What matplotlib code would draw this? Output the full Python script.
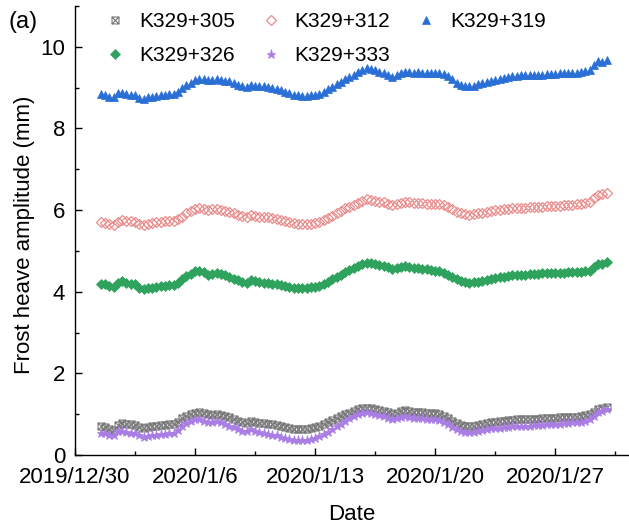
import matplotlib
matplotlib.use("Agg")
import matplotlib.pyplot as plt
from matplotlib.path import Path
from matplotlib.ticker import MultipleLocator
import pandas as pd

plt.rcParams['font.family'] = ['Liberation Sans', 'DejaVu Sans']

# ---------------- data ----------------
times = pd.date_range("2019-12-31 12:00", periods=119, freq="6h")

series_names = ["K329+305", "K329+312", "K329+319", "K329+326", "K329+333"]

k305 = [0.70, 0.68,
        0.64, 0.62, 0.74, 0.78,  0.76, 0.75, 0.74, 0.68,  0.66, 0.68, 0.70, 0.72,
        0.73, 0.74, 0.76, 0.76,  0.82, 0.90, 0.96, 1.00,  1.03, 1.05, 1.03, 1.00,
        0.99, 1.00, 0.98, 0.95,  0.92, 0.88, 0.84, 0.80,  0.78, 0.84, 0.82, 0.79,
        0.78, 0.77, 0.75, 0.73,  0.71, 0.68, 0.65, 0.64,  0.63, 0.63, 0.64, 0.66,
        0.68, 0.71, 0.75, 0.80,  0.85, 0.90, 0.95, 1.00,  1.04, 1.08, 1.12, 1.14,
        1.16, 1.15, 1.12, 1.10,  1.08, 1.05, 1.01, 1.04,  1.09, 1.10, 1.08, 1.06,
        1.06, 1.05, 1.04, 1.03,  1.02, 1.00, 0.96, 0.90,  0.84, 0.78, 0.74, 0.72,
        0.71, 0.72, 0.74, 0.76,  0.78, 0.80, 0.82, 0.83,  0.84, 0.85, 0.86, 0.87,
        0.87, 0.88, 0.88, 0.89,  0.89, 0.90, 0.90, 0.91,  0.91, 0.92, 0.92, 0.93,
        0.94, 0.94, 0.95, 0.97,  1.00, 1.06, 1.12, 1.14,
        1.17]

k312 = [5.70, 5.68,
        5.66, 5.64, 5.72, 5.76,  5.74, 5.73, 5.72, 5.66,  5.64, 5.66, 5.68, 5.70,
        5.72, 5.73, 5.74, 5.74,  5.78, 5.84, 5.92, 5.98,  6.02, 6.04, 6.03, 6.00,
        6.02, 6.02, 6.00, 5.98,  5.96, 5.92, 5.88, 5.85,  5.84, 5.88, 5.86, 5.84,
        5.83, 5.82, 5.80, 5.78,  5.76, 5.73, 5.70, 5.68,  5.67, 5.66, 5.66, 5.67,
        5.68, 5.71, 5.75, 5.80,  5.86, 5.92, 5.98, 6.04,  6.08, 6.13, 6.18, 6.22,
        6.26, 6.25, 6.22, 6.20,  6.19, 6.16, 6.12, 6.14,  6.18, 6.20, 6.19, 6.18,
        6.18, 6.17, 6.16, 6.15,  6.15, 6.14, 6.12, 6.08,  6.02, 5.96, 5.92, 5.90,
        5.89, 5.90, 5.92, 5.94,  5.96, 5.97, 5.99, 6.01,  6.02, 6.03, 6.04, 6.05,
        6.06, 6.06, 6.07, 6.07,  6.08, 6.08, 6.09, 6.10,  6.10, 6.11, 6.12, 6.12,
        6.13, 6.14, 6.15, 6.17,  6.20, 6.30, 6.38, 6.40,
        6.43]

k319 = [8.84, 8.82,
        8.78, 8.76, 8.86, 8.88,  8.84, 8.83, 8.82, 8.74,  8.72, 8.76, 8.78, 8.80,
        8.82, 8.83, 8.85, 8.84,  8.90, 8.98, 9.06, 9.12,  9.18, 9.21, 9.20, 9.18,
        9.19, 9.20, 9.18, 9.17,  9.16, 9.12, 9.07, 9.04,  9.02, 9.06, 9.05, 9.04,
        9.03, 9.02, 9.00, 8.97,  8.94, 8.90, 8.86, 8.83,  8.81, 8.80, 8.80, 8.81,
        8.82, 8.85, 8.90, 8.96,  9.02, 9.08, 9.14, 9.20,  9.26, 9.32, 9.38, 9.43,
        9.48, 9.46, 9.42, 9.38,  9.36, 9.32, 9.27, 9.30,  9.35, 9.38, 9.38, 9.37,
        9.38, 9.36, 9.36, 9.35,  9.36, 9.35, 9.33, 9.28,  9.20, 9.12, 9.07, 9.04,
        9.03, 9.05, 9.08, 9.12,  9.14, 9.16, 9.19, 9.22,  9.24, 9.26, 9.28, 9.29,
        9.30, 9.30, 9.31, 9.31,  9.32, 9.32, 9.33, 9.33,  9.34, 9.35, 9.35, 9.36,
        9.37, 9.37, 9.38, 9.40,  9.42, 9.56, 9.66, 9.64,
        9.67]

k326 = [4.20, 4.18,
        4.15, 4.12, 4.22, 4.26,  4.22, 4.20, 4.18, 4.10,  4.06, 4.08, 4.10, 4.12,
        4.13, 4.14, 4.16, 4.16,  4.22, 4.30, 4.38, 4.44,  4.50, 4.52, 4.48, 4.42,
        4.44, 4.46, 4.44, 4.40,  4.36, 4.32, 4.28, 4.24,  4.22, 4.28, 4.26, 4.23,
        4.22, 4.21, 4.20, 4.19,  4.17, 4.14, 4.12, 4.10,  4.09, 4.09, 4.10, 4.11,
        4.12, 4.15, 4.19, 4.24,  4.30, 4.36, 4.42, 4.48,  4.53, 4.58, 4.63, 4.67,
        4.71, 4.70, 4.68, 4.65,  4.63, 4.60, 4.55, 4.57,  4.61, 4.62, 4.60, 4.58,
        4.58, 4.56, 4.55, 4.53,  4.52, 4.50, 4.47, 4.42,  4.36, 4.30, 4.26, 4.23,
        4.22, 4.23, 4.25, 4.27,  4.29, 4.31, 4.33, 4.35,  4.37, 4.38, 4.40, 4.41,
        4.42, 4.42, 4.43, 4.44,  4.44, 4.45, 4.45, 4.46,  4.46, 4.47, 4.47, 4.48,
        4.48, 4.49, 4.49, 4.50,  4.52, 4.60, 4.67, 4.68,
        4.72]

k333 = [0.55, 0.53,
        0.50, 0.48, 0.58, 0.60,  0.57, 0.55, 0.54, 0.48,  0.45, 0.47, 0.49, 0.50,
        0.51, 0.52, 0.54, 0.55,  0.62, 0.70, 0.78, 0.84,  0.88, 0.88, 0.84, 0.80,
        0.82, 0.83, 0.80, 0.76,  0.72, 0.68, 0.64, 0.60,  0.58, 0.63, 0.60, 0.56,
        0.54, 0.52, 0.50, 0.48,  0.45, 0.42, 0.39, 0.37,  0.36, 0.36, 0.37, 0.39,
        0.42, 0.46, 0.51, 0.57,  0.63, 0.70, 0.77, 0.84,  0.90, 0.96, 1.00, 1.03,
        1.05, 1.03, 1.00, 0.97,  0.95, 0.91, 0.87, 0.90,  0.94, 0.95, 0.93, 0.91,
        0.91, 0.90, 0.89, 0.88,  0.87, 0.85, 0.81, 0.75,  0.69, 0.63, 0.59, 0.57,
        0.56, 0.57, 0.59, 0.61,  0.63, 0.65, 0.66, 0.67,  0.68, 0.69, 0.70, 0.71,
        0.71, 0.72, 0.72, 0.73,  0.74, 0.74, 0.75, 0.76,  0.77, 0.77, 0.78, 0.79,
        0.80, 0.80, 0.82, 0.84,  0.88, 0.96, 1.06, 1.09,
        1.12]

xtick_dates = ["2019-12-30", "2020-01-06", "2020-01-13", "2020-01-20", "2020-01-27"]
xtick_labels = ["2019/12/30", "2020/1/6", "2020/1/13", "2020/1/20", "2020/1/27"]
yticks = [0, 2, 4, 6, 8, 10]

# ---------------- figure ----------------
fig = plt.figure(figsize=(6.29, 5.27), dpi=100)
ax = fig.add_axes([75 / 629, 72 / 527, 554 / 629, 449 / 527])

box_x = Path([(-1, -1), (1, -1), (1, 1), (-1, 1), (-1, -1),
              (-1, -1), (1, 1), (-1, 1), (1, -1)],
             [Path.MOVETO, Path.LINETO, Path.LINETO, Path.LINETO, Path.CLOSEPOLY,
              Path.MOVETO, Path.LINETO, Path.MOVETO, Path.LINETO])

h305, = ax.plot(times, k305, ls='none', marker=box_x, ms=5.0, mfc='none',
                mec='#777777', mew=0.8, label=series_names[0])
h312, = ax.plot(times, k312, ls='none', marker='D', ms=5.4, mfc='none',
                mec='#e88c8c', mew=0.9, label=series_names[1])
h319, = ax.plot(times, k319, ls='none', marker='^', ms=6.4, mfc='#2a6fd6',
                mec='#2a6fd6', mew=0.5, label=series_names[2])
h326, = ax.plot(times, k326, ls='none', marker='D', ms=5.2, mfc='#2fa35e',
                mec='#2fa35e', mew=0.5, label=series_names[3])
h333, = ax.plot(times, k333, ls='none', marker='*', ms=6.8, mfc='#a97de4',
                mec='#a97de4', mew=0.5, label=series_names[4])

x0 = pd.Timestamp("2019-12-30")
ax.set_xlim(x0, x0 + pd.Timedelta(days=32.3))
ax.set_ylim(0, 11)

ax.set_xticks(pd.to_datetime(xtick_dates))
ax.set_xticklabels(xtick_labels)
ax.set_xticks(pd.to_datetime(xtick_dates) + pd.Timedelta(hours=84), minor=True)
ax.set_yticks(yticks)
ax.yaxis.set_minor_locator(MultipleLocator(1))

for side in ['top', 'right']:
    ax.spines[side].set_visible(False)
for side in ['left', 'bottom']:
    ax.spines[side].set_linewidth(1.0)

ax.tick_params(axis='both', which='major', direction='in', length=5, width=1.0,
               labelsize=16, pad=7)
ax.tick_params(axis='x', which='major', pad=8.5)
ax.tick_params(axis='both', which='minor', direction='in', length=3, width=1.0)

ax.set_xlabel("Date", fontsize=16, labelpad=12)
ax.set_ylabel("Frost heave amplitude (mm)", fontsize=16)
ax.yaxis.set_label_coords(-0.072, 0.49)

fig.text(9 / 629, 1 - 22 / 527, "(a)", fontsize=17, va='center', ha='left')

handles = [h305, h326, h312, h333, h319]
ax.legend(handles=handles, labels=[h.get_label() for h in handles], ncol=3,
          loc='upper left', bbox_to_anchor=(105 / 629, 1 - 12 / 527),
          bbox_transform=fig.transFigure, frameon=False, fontsize=15,
          handlelength=1.0, handletextpad=0.65, columnspacing=1.2,
          labelspacing=0.72, borderpad=0, borderaxespad=0, markerscale=1.0)

fig.savefig("out.png", dpi=100)
